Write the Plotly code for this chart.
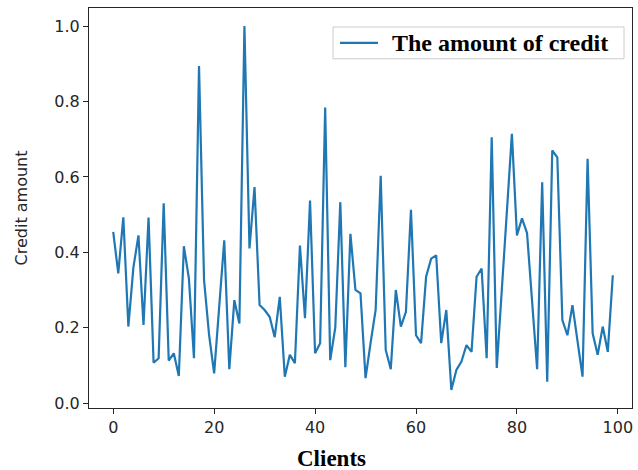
import plotly.graph_objects as go

clients = list(range(100))
credit_amount = [
    0.454, 0.344, 0.493, 0.203, 0.360, 0.445, 0.207, 0.492, 0.107, 0.119,
    0.530, 0.113, 0.132, 0.072, 0.416, 0.330, 0.119, 0.894, 0.326, 0.180,
    0.079, 0.250, 0.432, 0.090, 0.273, 0.211, 1.000, 0.410, 0.573, 0.260,
    0.247, 0.229, 0.175, 0.282, 0.070, 0.128, 0.106, 0.418, 0.225, 0.537,
    0.132, 0.159, 0.784, 0.114, 0.200, 0.533, 0.095, 0.449, 0.300, 0.291,
    0.066, 0.160, 0.247, 0.603, 0.141, 0.090, 0.300, 0.203, 0.242, 0.513,
    0.180, 0.159, 0.335, 0.383, 0.392, 0.159, 0.247, 0.035, 0.088, 0.110,
    0.154, 0.136, 0.335, 0.357, 0.119, 0.705, 0.093, 0.300, 0.500, 0.714,
    0.445, 0.490, 0.451, 0.270, 0.090, 0.586, 0.057, 0.670, 0.652, 0.220,
    0.180, 0.260, 0.165, 0.070, 0.648, 0.185, 0.128, 0.203, 0.136, 0.339,
]
x_ticks = [0, 20, 40, 60, 80, 100]
y_ticks = [0.0, 0.2, 0.4, 0.6, 0.8, 1.0]
y_tick_labels = ["0.0", "0.2", "0.4", "0.6", "0.8", "1.0"]
series_name = "The amount of credit"
x_label = "Clients"
y_label = "Credit amount"
line_color = "#1f77b4"

fig = go.Figure()
fig.add_trace(go.Scatter(
    x=clients, y=credit_amount, mode="lines", name=series_name,
    line=dict(color=line_color, width=2.2), showlegend=False,
))

axis_common = dict(
    showgrid=False, zeroline=False, showline=True, linecolor="#262626",
    linewidth=1, mirror=True, ticks="outside", ticklen=5, tickwidth=1,
    tickcolor="#262626",
    tickfont=dict(family="DejaVu Sans", size=16, color="#262626"),
)

# legend drawn as a box (paper coordinates)
legend_shapes = [
    dict(type="rect", xref="paper", yref="paper", x0=0.4494, x1=0.9853, y0=0.873, y1=0.9525,
         line=dict(color="#cccccc", width=1), fillcolor="white", layer="above"),
    dict(type="line", xref="paper", yref="paper", x0=0.4622, x1=0.5322, y0=0.913, y1=0.913,
         line=dict(color=line_color, width=2.2), layer="above"),
]

fig.update_layout(
    width=638, height=470,
    margin=dict(l=89, r=6, t=8, b=62, autoexpand=False),
    paper_bgcolor="white", plot_bgcolor="white",
    showlegend=False,
    xaxis=dict(range=[-4.8, 102.8], tickvals=x_ticks, **axis_common),
    yaxis=dict(
        range=[-0.013, 1.048], tickvals=y_ticks, ticktext=y_tick_labels,
        title=dict(text=y_label, font=dict(family="DejaVu Sans", size=16, color="#262626"), standoff=22),
        **axis_common,
    ),
    shapes=legend_shapes,
    annotations=[
        dict(
            text="<b>" + x_label + "</b>", xref="paper", yref="paper",
            x=0.4475, y=-0.125, xanchor="center", yanchor="middle", showarrow=False,
            font=dict(family="Liberation Serif", size=23, color="black"),
        ),
        dict(
            text="<b>" + series_name + "</b>", xref="paper", yref="paper",
            x=0.5543, y=0.913, xanchor="left", yanchor="middle", showarrow=False,
            font=dict(family="Liberation Serif", size=24, color="black"),
        ),
    ],
)

fig.write_html(
    "out.html",
    config={"displayModeBar": False},
    post_script="document.body.style.margin='0';document.body.style.padding='0';",
)
